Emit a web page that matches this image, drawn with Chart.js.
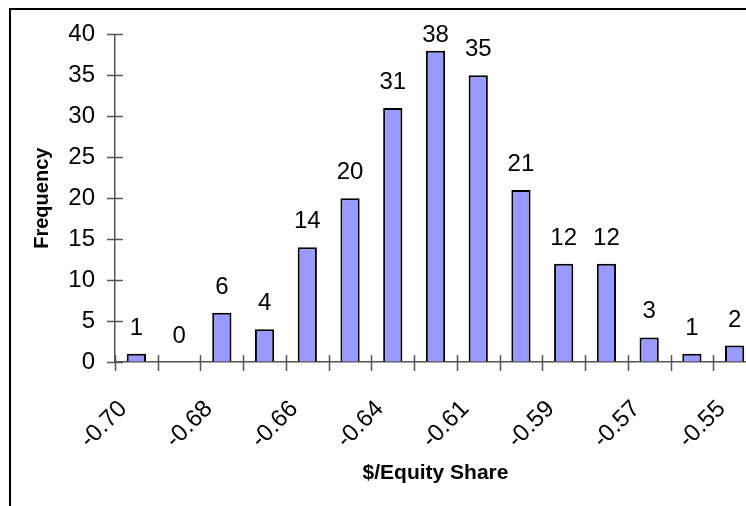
<!DOCTYPE html>
<html>
<head>
<meta charset="utf-8">
<script src="https://cdn.jsdelivr.net/npm/chart.js@4.4.1/dist/chart.umd.min.js"></script>
<style>
  html, body { margin: 0; padding: 0; background: #fff; overflow: hidden; }
  body { width: 746px; height: 506px; position: relative; }
  .frame {
    position: absolute; left: 9px; top: 8px; width: 900px; height: 700px;
    border-top: 2.5px solid #000; border-left: 2.5px solid #000;
  }
  .wrap { position: absolute; left: 0; top: 0; width: 800px; height: 506px; }
</style>
</head>
<body>
<div class="frame"></div>
<div class="wrap"><canvas id="chart"></canvas></div>
<script>
// bin labels ($/Equity Share), shown on every other bin
const binLabels = ['-0.70', '-0.69', '-0.68', '-0.67', '-0.66', '-0.65', '-0.64', '-0.63',
                   '-0.61', '-0.60', '-0.59', '-0.58', '-0.57', '-0.56', '-0.55'];
const frequency = [1, 0, 6, 4, 14, 20, 31, 38, 35, 21, 12, 12, 3, 1, 2];
const yTicks = { min: 0, max: 40, step: 5 };

const FONT = "'Liberation Sans', Arial, sans-serif";
const AXIS = '#555555';

// Excel-style tick marks that cross the axis lines
const crossTicks = {
  id: 'crossTicks',
  afterDraw(chart) {
    const { ctx, scales: { x, y } } = chart;
    ctx.save();
    ctx.strokeStyle = AXIS;
    ctx.lineWidth = 1.5;
    ctx.beginPath();
    y.ticks.forEach(t => {
      const py = Math.round(y.getPixelForValue(t.value)) + 0.5;
      ctx.moveTo(x.left - 8, py);
      ctx.lineTo(x.left + 8, py);
    });
    const step = x.width / binLabels.length;
    for (let k = 0; k <= binLabels.length; k++) {
      const px = Math.round(x.left + k * step) + 0.5;
      ctx.moveTo(px, y.bottom - 7);
      ctx.lineTo(px, y.bottom + 9);
    }
    ctx.stroke();
    ctx.restore();
  }
};

// value labels above the bars
const valueLabels = {
  id: 'valueLabels',
  afterDatasetsDraw(chart) {
    const { ctx, chartArea } = chart;
    const meta = chart.getDatasetMeta(0);
    ctx.save();
    ctx.font = '24px ' + FONT;
    ctx.fillStyle = '#000';
    ctx.textAlign = 'center';
    ctx.textBaseline = 'alphabetic';
    meta.data.forEach((bar, i) => {
      const yy = Math.max(bar.y - 19, chartArea.top + 8);
      ctx.fillText(String(frequency[i]), bar.x, yy);
    });
    ctx.restore();
  }
};

new Chart(document.getElementById('chart'), {
  type: 'bar',
  data: {
    labels: binLabels,
    datasets: [{
      data: frequency,
      backgroundColor: '#9999FF',
      borderColor: '#000000',
      borderWidth: 2,
      barPercentage: 0.45,
      categoryPercentage: 1
    }]
  },
  options: {
    responsive: true,
    maintainAspectRatio: false,
    animation: false,
    layout: { padding: { top: 31, right: 44, left: 0, bottom: 0 } },
    plugins: { legend: { display: false }, tooltip: { enabled: false } },
    scales: {
      x: {
        grid: { offset: true, drawOnChartArea: false, drawTicks: false },
        border: { color: AXIS, width: 1.5 },
        ticks: {
          autoSkip: false,
          minRotation: 45,
          maxRotation: 45,
          padding: 33,
          labelOffset: -13,
          color: '#000',
          font: { family: FONT, size: 24 },
          callback: (v, i) => i % 2 === 0 ? binLabels[i] : ''
        },
        title: {
          display: true,
          text: '$/Equity Share',
          color: '#000',
          font: { family: FONT, size: 21, weight: 'bold' },
          padding: { top: 0, bottom: 20 }
        },
        afterFit: s => { s.height = 144; }
      },
      y: {
        min: yTicks.min,
        max: yTicks.max,
        grid: { drawOnChartArea: false, drawTicks: false },
        border: { color: AXIS, width: 1.5 },
        ticks: {
          stepSize: yTicks.step,
          padding: 20,
          color: '#000',
          font: { family: FONT, size: 24 }
        },
        title: {
          display: true,
          text: 'Frequency',
          color: '#000',
          font: { family: FONT, size: 20, weight: 'bold' },
          padding: { top: 30, bottom: 0 }
        },
        afterFit: s => { s.width = 115; }
      }
    }
  },
  plugins: [crossTicks, valueLabels]
});
</script>
</body>
</html>
